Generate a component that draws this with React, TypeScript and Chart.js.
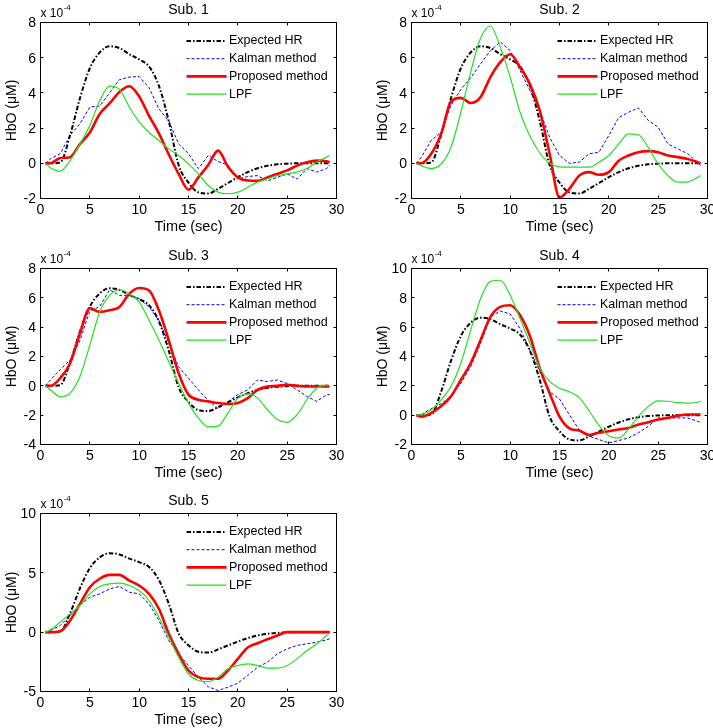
import React, { useEffect, useRef } from 'react';
import { Chart, registerables } from 'chart.js';

Chart.register(...registerables);

// ---------------- data (HbO values in units of 1e-4 µM) ----------------
const TIME = [0.5, 1, 2, 3, 4, 5, 6, 7, 8, 9, 10, 11, 12, 13, 14, 15, 16, 17, 18, 19, 20, 21, 22, 23, 24, 25, 26, 27, 28, 29, 29.3];
const X_TICKS = [0, 5, 10, 15, 20, 25, 30];
const SERIES_NAMES = ['Expected HR', 'Kalman method', 'Proposed method', 'LPF'];

const EXPECTED_HR = [0, 0, 0.05, 1.6, 3.7, 5.4, 6.3, 6.65, 6.55, 6.2, 5.9, 5.5, 4.4, 2.4, -0.1, -1.1, -1.65, -1.72, -1.45, -1.12, -0.79, -0.5, -0.28, -0.14, -0.06, -0.02, 0, 0, 0, 0, 0];

const SUB1_Y_TICKS = [-2, 0, 2, 4, 6, 8];
const SUB1_KALMAN = [0, 0.25, 0.55, 1.6, 2.25, 3.2, 3.25, 4.0, 4.75, 4.9, 4.93, 4.3, 3.1, 2.4, 1.1, 0.55, -0.3, 0.45, 0.1, -0.1, -0.9, -0.75, -0.7, -1.0, -0.8, -0.6, -0.9, -0.3, -0.5, -0.3, -0.1];
const SUB1_PROPOSED = [0, 0, 0.3, 0.35, 1.1, 1.75, 2.8, 3.4, 4.05, 4.38, 3.8, 2.7, 1.7, 0.5, -0.6, -1.5, -0.8, -0.1, 0.72, -0.2, -0.8, -0.98, -1.0, -0.8, -0.6, -0.4, -0.13, 0.06, 0.15, 0.12, 0.05];
const SUB1_LPF = [0, -0.25, -0.45, 0.15, 1.1, 2.15, 3.55, 4.38, 4.2, 3.2, 2.35, 1.75, 1.3, 0.82, 0.44, -0.03, -0.6, -1.26, -1.64, -1.73, -1.64, -1.36, -1.07, -0.88, -0.7, -0.6, -0.5, -0.3, 0.06, 0.35, 0.44];

const SUB2_Y_TICKS = [-2, 0, 2, 4, 6, 8];
const SUB2_KALMAN = [0, 0.35, 1.3, 1.77, 3.3, 4.2, 4.85, 5.65, 6.4, 6.9, 6.4, 5.27, 4.14, 3.0, 1.48, 0.44, 0.0, 0.06, 0.54, 0.63, 1.58, 2.6, 2.9, 3.15, 2.43, 2.05, 1.1, 0.82, 0.54, 0.06, -0.13];
const SUB2_PROPOSED = [0, 0, 0.54, 1.67, 3.5, 3.72, 3.43, 3.76, 4.9, 5.75, 6.2, 5.46, 4.5, 3.0, 0.54, -1.95, -1.45, -0.7, -0.5, -0.65, -0.5, 0.15, 0.44, 0.63, 0.69, 0.63, 0.44, 0.35, 0.25, 0.06, 0];
const SUB2_LPF = [0, -0.13, -0.3, -0.04, 0.9, 2.9, 5.2, 7.1, 7.8, 6.6, 4.9, 2.9, 1.55, 0.6, 0.0, -0.2, -0.22, -0.22, -0.22, 0.06, 0.44, 1.1, 1.67, 1.62, 0.9, -0.04, -0.7, -1.07, -1.05, -0.8, -0.7];

const SUB3_Y_TICKS = [-4, -2, 0, 2, 4, 6, 8];
const SUB3_KALMAN = [0, 0.4, 1.1, 1.76, 3.1, 5.1, 5.4, 6.55, 6.17, 6.17, 5.94, 5.38, 4.47, 2.9, 1.3, 0.52, -0.27, -1.0, -1.55, -1.1, -0.6, -0.27, 0.4, 0.29, 0.4, 0.16, -0.27, -0.72, -1.06, -0.6, -0.6];
const SUB3_PROPOSED = [0, 0, 0.52, 1.54, 3.57, 5.3, 5.04, 5.15, 5.38, 6.28, 6.67, 6.5, 5.15, 3.1, 0.86, -0.6, -0.95, -1.06, -1.17, -1.24, -1.17, -0.84, -0.27, -0.05, 0, 0.07, 0, -0.05, -0.05, -0.05, -0.05];
const SUB3_LPF = [0, -0.27, -0.75, -0.5, 0.63, 2.78, 5.04, 6.17, 6.55, 6.28, 5.72, 4.47, 3.12, 1.65, 0.18, -1.18, -2.19, -2.8, -2.75, -1.85, -0.84, -0.55, -0.84, -1.63, -2.3, -2.49, -1.97, -0.95, -0.15, 0.05, 0];

const SUB4_Y_TICKS = [-2, 0, 2, 4, 6, 8, 10];
const SUB4_KALMAN = [0, 0.05, 0.44, 0.78, 1.28, 2.18, 3.31, 4.89, 6.7, 7.1, 6.9, 5.9, 4.44, 2.97, 1.6, 1.1, 0.03, -1.0, -1.43, -1.66, -1.89, -1.73, -1.55, -1.2, -0.76, -0.19, -0.19, -0.19, -0.19, -0.42, -0.49];
const SUB4_PROPOSED = [0, -0.1, 0.15, 0.6, 1.28, 2.4, 3.54, 5.12, 6.7, 7.38, 7.49, 6.81, 5.4, 3.2, 1.5, -0.1, -0.9, -1.05, -1.35, -1.2, -1.1, -0.98, -0.87, -0.64, -0.49, -0.3, -0.19, -0.03, 0.05, 0.05, 0.05];
const SUB4_LPF = [0, 0.05, 0.37, 1.05, 1.95, 3.54, 5.8, 7.94, 9.12, 9.2, 8.17, 6.59, 4.9, 3.2, 2.3, 1.84, 1.6, 1.2, 0.3, -0.7, -1.4, -1.55, -0.95, -0.08, 0.6, 0.97, 0.95, 0.85, 0.82, 0.88, 0.96];

const SUB5_Y_TICKS = [-5, 0, 5, 10];
const SUB5_KALMAN = [0, 0.14, 0.56, 1.4, 2.25, 2.95, 3.23, 3.65, 3.85, 3.37, 3.23, 2.39, 0.98, -0.7, -1.83, -2.8, -3.8, -4.6, -4.92, -4.63, -4.3, -3.65, -2.95, -2.53, -1.83, -1.4, -1.12, -0.98, -0.84, -0.65, -0.56];
const SUB5_PROPOSED = [0, 0, 0.08, 0.98, 2.39, 3.79, 4.5, 4.83, 4.83, 4.35, 3.93, 3.23, 1.97, -0.14, -1.83, -3.23, -3.79, -3.93, -3.93, -3.23, -2.25, -1.3, -0.93, -0.6, -0.28, 0, 0, 0, 0, 0, 0];
const SUB5_LPF = [0, 0.2, 0.84, 1.54, 2.25, 3.23, 3.85, 4.07, 4.13, 3.93, 3.51, 2.67, 1.26, -0.42, -2.11, -3.51, -4.07, -4.16, -3.79, -3.09, -2.81, -2.67, -2.81, -3.03, -3.03, -2.81, -2.25, -1.55, -0.98, -0.28, -0.08];

// ---------------- styles / layout ----------------
const FONT = '"Liberation Sans", Arial, Helvetica, sans-serif';
const SERIES_STYLE = [
  { color: '#000000', width: 2, dash: [4.5, 2, 1.5, 2], tension: 'monotone', order: 4 },
  { color: '#0000ff', width: 1, dash: [3, 2], tension: 'none', order: 3 },
  { color: '#ff0000', width: 2.6, dash: [] as number[], tension: 'monotone', order: 2 },
  { color: '#22e022', width: 1.2, dash: [] as number[], tension: 'monotone', order: 1 },
];

type Panel = {
  title: string;
  yTicks: number[];
  series: number[][];
  canvas: { left: number; top: number; width: number; height: number };
  box: { l: number; t: number; r: number; b: number };
};

const PANELS: Panel[] = [
  { title: 'Sub. 1', yTicks: SUB1_Y_TICKS, series: [EXPECTED_HR, SUB1_KALMAN, SUB1_PROPOSED, SUB1_LPF],
    canvas: { left: 0, top: 0, width: 356, height: 245 }, box: { l: 40.5, t: 22.5, r: 336.5, b: 198.5 } },
  { title: 'Sub. 2', yTicks: SUB2_Y_TICKS, series: [EXPECTED_HR, SUB2_KALMAN, SUB2_PROPOSED, SUB2_LPF],
    canvas: { left: 356, top: 0, width: 357, height: 245 }, box: { l: 411.5, t: 22.5, r: 707.5, b: 198.5 } },
  { title: 'Sub. 3', yTicks: SUB3_Y_TICKS, series: [EXPECTED_HR, SUB3_KALMAN, SUB3_PROPOSED, SUB3_LPF],
    canvas: { left: 0, top: 245, width: 356, height: 243 }, box: { l: 40.5, t: 268.5, r: 336.5, b: 444.5 } },
  { title: 'Sub. 4', yTicks: SUB4_Y_TICKS, series: [EXPECTED_HR, SUB4_KALMAN, SUB4_PROPOSED, SUB4_LPF],
    canvas: { left: 356, top: 245, width: 357, height: 243 }, box: { l: 411.5, t: 268.5, r: 707.5, b: 444.5 } },
  { title: 'Sub. 5', yTicks: SUB5_Y_TICKS, series: [EXPECTED_HR, SUB5_KALMAN, SUB5_PROPOSED, SUB5_LPF],
    canvas: { left: 0, top: 488, width: 356, height: 240 }, box: { l: 40.5, t: 513.5, r: 336.5, b: 691.5 } },
];

function makeDecor(p: Panel) {
  return {
    id: 'decor',
    afterDatasetsDraw(chart: any) {
      const ctx: CanvasRenderingContext2D = chart.ctx;
      const ca = chart.chartArea;
      const xs = chart.scales.x;
      const ys = chart.scales.y;
      const TL = 3;
      ctx.save();
      // box
      ctx.strokeStyle = '#000';
      ctx.lineWidth = 1;
      ctx.setLineDash([]);
      ctx.strokeRect(ca.left, ca.top, ca.right - ca.left, ca.bottom - ca.top);
      // inward ticks
      ctx.beginPath();
      X_TICKS.forEach((v) => {
        const x = Math.floor(xs.getPixelForValue(v)) + 0.5;
        ctx.moveTo(x, ca.bottom); ctx.lineTo(x, ca.bottom - TL);
        ctx.moveTo(x, ca.top); ctx.lineTo(x, ca.top + TL);
      });
      p.yTicks.forEach((v) => {
        const y = Math.floor(ys.getPixelForValue(v)) + 0.5;
        ctx.moveTo(ca.left, y); ctx.lineTo(ca.left + TL, y);
        ctx.moveTo(ca.right, y); ctx.lineTo(ca.right - TL, y);
      });
      ctx.stroke();
      // tick labels
      ctx.fillStyle = '#000';
      ctx.font = `14px ${FONT}`;
      ctx.textAlign = 'center';
      ctx.textBaseline = 'alphabetic';
      X_TICKS.forEach((v) => ctx.fillText(String(v), xs.getPixelForValue(v), ca.bottom + 15.5));
      ctx.textAlign = 'right';
      ctx.textBaseline = 'middle';
      p.yTicks.forEach((v) => ctx.fillText(String(v), ca.left - 4.5, ys.getPixelForValue(v) + 1));
      // axis labels
      ctx.font = `14.5px ${FONT}`;
      ctx.textAlign = 'center';
      ctx.textBaseline = 'alphabetic';
      ctx.fillText('Time (sec)', (ca.left + ca.right) / 2, ca.bottom + 32.5);
      ctx.save();
      ctx.translate(ca.left - 28.5, (ca.top + ca.bottom) / 2);
      ctx.rotate(-Math.PI / 2);
      ctx.font = `14px ${FONT}`;
      ctx.textBaseline = 'middle';
      ctx.fillText('HbO (\u03BCM)', 0, 0);
      ctx.restore();
      // title
      ctx.font = `14px ${FONT}`;
      ctx.textAlign = 'center';
      ctx.textBaseline = 'alphabetic';
      ctx.fillText(p.title, (ca.left + ca.right) / 2, ca.top - 8.5);
      // exponent
      ctx.textAlign = 'left';
      ctx.font = `12px ${FONT}`;
      ctx.fillText('x 10', ca.left, ca.top - 5.5);
      const w = ctx.measureText('x 10').width;
      ctx.font = `8px ${FONT}`;
      ctx.fillText('-4', ca.left + w + 0.5, ca.top - 13);
      // legend
      ctx.font = `12.5px ${FONT}`;
      ctx.textBaseline = 'middle';
      chart.data.datasets.forEach((ds: any, i: number) => {
        const y = ca.top + 18.5 + i * 17.7;
        ctx.strokeStyle = ds.borderColor;
        ctx.lineWidth = ds.borderWidth;
        ctx.setLineDash(ds.borderDash || []);
        ctx.beginPath();
        ctx.moveTo(ca.right - 150, y);
        ctx.lineTo(ca.right - 110, y);
        ctx.stroke();
        ctx.setLineDash([]);
        ctx.fillStyle = '#000';
        ctx.fillText(ds.label, ca.right - 107.5, y);
      });
      ctx.restore();
    },
  };
}

function PanelChart({ p }: { p: Panel }) {
  const ref = useRef<HTMLCanvasElement | null>(null);
  useEffect(() => {
    if (!ref.current) return;
    const c = p.canvas;
    const yMin = p.yTicks[0];
    const yMax = p.yTicks[p.yTicks.length - 1];
    const chart = new Chart(ref.current, {
      type: 'line',
      data: {
        datasets: p.series.map((vals, i) => {
          const s = SERIES_STYLE[i];
          return {
            label: SERIES_NAMES[i],
            data: TIME.map((t, k) => ({ x: t, y: vals[k] })),
            borderColor: s.color,
            backgroundColor: s.color,
            borderWidth: s.width,
            borderDash: s.dash,
            pointRadius: 0,
            fill: false,
            tension: 0,
            cubicInterpolationMode: s.tension === 'monotone' ? 'monotone' : 'default',
            order: s.order,
          } as any;
        }),
      },
      options: {
        responsive: false,
        maintainAspectRatio: false,
        animation: false,
        events: [],
        devicePixelRatio: 1,
        layout: {
          padding: {
            left: p.box.l - c.left,
            top: p.box.t - c.top,
            right: c.left + c.width - p.box.r,
            bottom: c.top + c.height - p.box.b,
          },
        },
        plugins: { legend: { display: false }, title: { display: false }, tooltip: { enabled: false } },
        scales: {
          x: { type: 'linear', min: 0, max: 30, display: false },
          y: { type: 'linear', min: yMin, max: yMax, display: false },
        },
      } as any,
      plugins: [makeDecor(p)],
    });
    return () => chart.destroy();
  }, [p]);
  const c = p.canvas;
  return (
    <canvas
      ref={ref}
      width={c.width}
      height={c.height}
      style={{ position: 'absolute', left: c.left, top: c.top, width: c.width, height: c.height }}
    />
  );
}

export default function App() {
  return (
    <div style={{ position: 'absolute', left: 0, top: 0, width: 713, height: 728, background: '#fff', overflow: 'hidden' }}>
      {PANELS.map((p) => (
        <PanelChart key={p.title} p={p} />
      ))}
    </div>
  );
}
